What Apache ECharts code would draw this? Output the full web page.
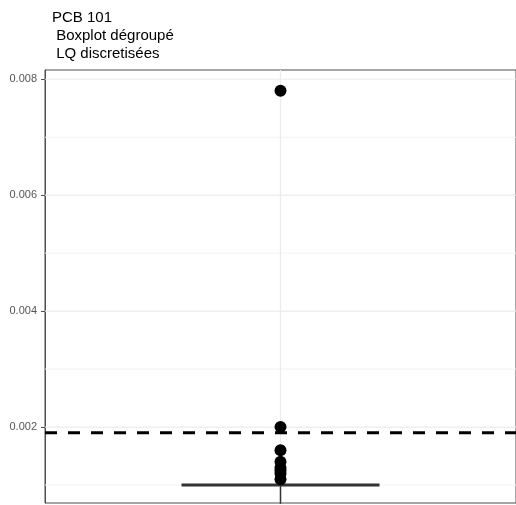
<!DOCTYPE html>
<html>
<head>
<meta charset="utf-8">
<script src="https://cdn.jsdelivr.net/npm/echarts@6/dist/echarts.min.js"></script>
<style>html,body{margin:0;padding:0;background:#fff}#c{width:516px;height:505px}</style>
</head>
<body>
<div id="c"></div>
<script>
var categories = ['PCB 101'];
// [min, Q1, median, Q3, max] — lower whisker runs below the visible panel
var boxValues = [[0.0005, 0.001, 0.001, 0.001, 0.001]];
var outliers = [0.0078, 0.002, 0.0016, 0.0014, 0.0013, 0.00125, 0.0012, 0.0011];
var thresholdLQ = 0.0019;
var yTicks = [0.002, 0.004, 0.006, 0.008];
var yMinorGrid = [0.001, 0.003, 0.005, 0.007];
var titleLines = ['PCB 101', ' Boxplot dégroupé', ' LQ discretisées'];

var Y_MIN = 0.00069, Y_MAX = 0.00816;
var chart = echarts.init(document.getElementById('c'), null, {renderer: 'canvas'});
var FONT = 'Liberation Sans, Arial, sans-serif';

function hLine(v, style, z) {
  return {type: 'line', xAxisIndex: 1, data: [[0, v], [1, v]], symbol: 'none', silent: true, z: z,
    lineStyle: style, animation: false};
}
var series = [];
yMinorGrid.forEach(function (v) { series.push(hLine(v, {color: '#f3f3f3', width: 1}, 1)); });
yTicks.forEach(function (v) { series.push(hLine(v, {color: '#ebebeb', width: 1.2}, 1)); });
// vertical major grid line at the category centre
series.push({type: 'line', xAxisIndex: 1, data: [[0.5, Y_MIN], [0.5, Y_MAX]], symbol: 'none', silent: true, z: 1,
  lineStyle: {color: '#ebebeb', width: 1.2}});
// lower whisker (min -> Q1)
boxValues.forEach(function (b) {
  series.push({type: 'line', xAxisIndex: 1, data: [[0.5, b[0]], [0.5, b[1]]], symbol: 'none', silent: true, z: 2,
    lineStyle: {color: '#333333', width: 1.5}});
});
series.push({
  type: 'boxplot', z: 3, boxWidth: [198, 198],
  data: boxValues.map(function (b) { return [b[1], b[1], b[2], b[3], b[4]]; }),
  itemStyle: {color: '#ffffff', borderColor: '#333333', borderWidth: 3}
});
series.push({
  type: 'scatter', z: 5, symbolSize: 12,
  data: outliers.map(function (v) { return [0, v]; }),
  itemStyle: {color: '#000000', opacity: 1}
});
series.push(hLine(thresholdLQ, {color: '#000000', width: 3, type: [12, 11]}, 6));

chart.setOption({
  animation: false,
  backgroundColor: '#ffffff',
  title: {
    text: titleLines.join('\n'),
    left: 47, top: 4,
    textStyle: {fontFamily: FONT, fontSize: 15, fontWeight: 'normal', color: '#000', lineHeight: 18}
  },
  grid: {left: 45, top: 70, width: 476, height: 433, show: true, borderColor: '#4d4d4d', borderWidth: 1, backgroundColor: 'transparent'},
  xAxis: [{
    type: 'category', data: categories, boundaryGap: true,
    axisLine: {show: false}, axisTick: {show: false}, axisLabel: {show: false}, splitLine: {show: false}
  }, {
    type: 'value', min: 0, max: 1, show: false, splitLine: {show: false}
  }],
  yAxis: {
    type: 'value', min: Y_MIN, max: Y_MAX,
    axisLine: {show: true, lineStyle: {color: '#4d4d4d'}},
    axisTick: {show: true, length: 4, customValues: yTicks, lineStyle: {color: '#4d4d4d'}},
    axisLabel: {show: true, customValues: yTicks, margin: 8, color: '#555555', fontFamily: FONT, fontSize: 11,
      formatter: function (v) { return v.toFixed(3); }},
    splitLine: {show: false}
  },
  series: series
});
</script>
</body>
</html>
